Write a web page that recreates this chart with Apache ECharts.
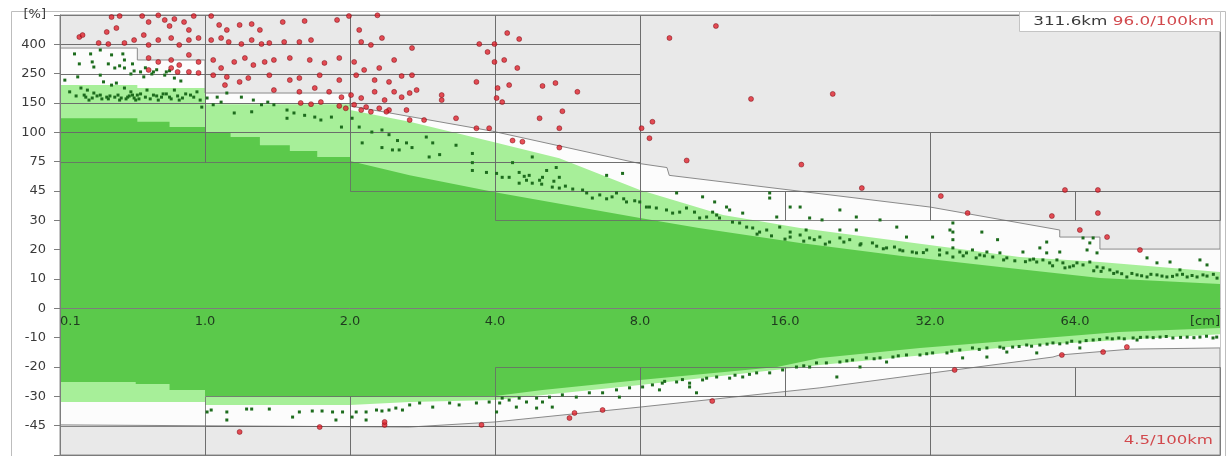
<!DOCTYPE html>
<html>
<head>
<meta charset="utf-8">
<script src="https://cdn.jsdelivr.net/npm/echarts@6/dist/echarts.min.js"></script>
<style>
  html, body { margin: 0; padding: 0; background: #fff; }
  #chart { width: 1230px; height: 456px; }
</style>
</head>
<body>
<div id="chart"></div>
<script>
// axis ticks: size [cm] doubles per step (first step 0.1 -> 1.0), deviation [%] on an uneven scale
const xTicks = [0.1, 1, 2, 4, 8, 16, 32, 64, 128];
const xLabels = ['0.1', '1.0', '2.0', '4.0', '8.0', '16.0', '32.0', '64.0', '[cm]'];
const yTicks = [-60, -45, -30, -20, -10, 0, 10, 20, 30, 45, 75, 100, 150, 250, 400, 600];
const yLabels = ['', '-45', '-30', '-20', '-10', '0', '10', '20', '30', '45', '75', '100', '150', '250', '400', '[%]'];

// limit bands [cm, %]
const upperEnvelope = [[0.1, 381], [0.58, 381], [0.58, 320], [1, 320], [1, 184], [2, 184], [2, 145], [3.95, 102], [8, 73], [9.1, 69], [9.2, 61], [32, 36.8], [59.5, 26.7], [59.5, 24.3], [72.1, 24.3], [72.1, 20.2], [128, 20.2]];
const lightUpper = [[0.1, 211], [0.58, 211], [0.58, 201], [1, 201], [1, 148], [2, 148], [2, 138], [2.66, 118], [3.95, 92], [5.44, 78], [8, 46], [11.9, 32.7], [17.2, 27.4], [36.9, 20.2], [49.1, 17.5], [72.1, 15.8], [128, 12.4]];
const darkUpper = [[0.1, 124], [0.58, 124], [0.58, 118], [0.78, 118], [0.78, 109], [1, 109], [1, 100.5], [1.13, 100.5], [1.13, 96], [1.3, 96], [1.3, 89], [1.5, 89], [1.5, 84], [1.71, 84], [1.71, 79], [2, 79], [2, 75.5], [2.66, 61], [4.08, 44], [8, 31.2], [10.6, 27.4], [17.2, 22.3], [27.7, 17.9], [44.7, 14.1], [72.1, 10.3], [128, 8.3]];
const lowerEnvelope = [[0.1, -44.6], [2.66, -45.7], [4, -43.1], [8, -35.5], [18.9, -27.1], [32.4, -22], [57.6, -16.6], [59.5, -15.9], [83.6, -13.9], [83.6, -13.5], [128, -13.5]];
const lightLower = [[0.1, -32.9], [1, -32.9], [1, -34.4], [2, -34.4], [2.66, -32.9], [4, -31.9], [8, -26.1], [18.9, -19.3], [49.1, -12.8], [128, -8.8]];
const darkLower = [[0.1, -25.1], [0.57, -25.1], [0.57, -25.8], [0.78, -25.8], [0.78, -27.8], [1, -27.8], [1, -29.9], [2, -30.4], [4, -29.9], [5.02, -27.8], [8, -24.4], [15.4, -20], [18.9, -16.9], [30.5, -13.5], [49.1, -10.8], [78.9, -8.1], [128, -6.7]];

// class boxes [cmFrom, cmTo, %from, %to]
const boxes = [
  [0.1, 1, 75, 100], [0.1, 1, 100, 150], [0.1, 1, 150, 250], [0.1, 1, 250, 400], [0.1, 1, 400, 600],
  [1, 2, 75, 100], [1, 2, 100, 150], [1, 2, 150, 250], [1, 2, 250, 400], [1, 2, 400, 600],
  [2, 4, 45, 75], [2, 4, 75, 100], [2, 4, 100, 150], [2, 4, 150, 250], [2, 4, 250, 400], [2, 4, 400, 600],
  [4, 8, 30, 45], [4, 8, 45, 75], [4, 8, 75, 100], [4, 8, 100, 150], [4, 8, 150, 250], [4, 8, 250, 400], [4, 8, 400, 600],
  [8, 128, 100, 600], [8, 32, 45, 100], [32, 128, 45, 100], [8, 16, 30, 45], [16, 32, 30, 45], [32, 64, 30, 45], [64, 128, 30, 45],
  [0.1, 1, -60, -45], [1, 2, -60, -45], [1, 2, -45, -30], [2, 4, -60, -45], [2, 4, -45, -30],
  [4, 8, -60, -45], [4, 8, -45, -30], [4, 8, -30, -20], [8, 32, -60, -45], [8, 32, -45, -30], [8, 16, -30, -20], [16, 32, -30, -20],
  [32, 128, -60, -45], [32, 128, -45, -30], [32, 64, -30, -20], [64, 128, -30, -20]
];

// measurements [cm, %]
const redDots = [
  [0.22, 450], [0.24, 463], [0.39, 484], [0.42, 586], [0.45, 511], [0.47, 593], [0.61, 593], [0.65, 552], [0.71, 598], [0.75, 566],
  [0.78, 525], [0.81, 573], [0.87, 552], [0.9, 498], [0.93, 593], [1.03, 593], [1.07, 532], [1.11, 498], [1.18, 532], [1.25, 538],
  [1.3, 498], [1.45, 552], [1.61, 559], [1.88, 566], [1.99, 593], [2.09, 498], [2.28, 598], [0.34, 409], [0.4, 402], [0.5, 409],
  [0.56, 429], [0.62, 463], [0.65, 397], [0.71, 429], [0.79, 443], [0.84, 397], [0.9, 429], [0.96, 443], [1.03, 429], [1.08, 443],
  [1.12, 416], [1.19, 402], [1.25, 429], [1.31, 402], [1.36, 409], [1.46, 416], [1.57, 416], [1.66, 429], [2.11, 416], [2.21, 397],
  [2.33, 443], [0.65, 330], [0.71, 310], [0.79, 320], [0.84, 294], [0.9, 346], [0.96, 310], [1.04, 320], [1.08, 279], [1.15, 310],
  [1.21, 330], [1.26, 294], [1.33, 310], [1.39, 320], [1.5, 330], [1.65, 320], [1.77, 305], [1.9, 330], [2.04, 310], [2.14, 269],
  [2.3, 279], [2.47, 320], [0.65, 269], [0.79, 279], [0.83, 259], [0.9, 259], [0.96, 254], [1.04, 245], [1.11, 239], [1.23, 235],
  [1.36, 245], [1.5, 228], [1.57, 235], [1.73, 245], [1.9, 228], [2.06, 245], [2.25, 228], [2.41, 222], [2.56, 242], [1.1, 211],
  [1.18, 222], [1.39, 194], [1.57, 188], [1.69, 201], [1.81, 188], [1.92, 170], [2.01, 177], [2.11, 167], [2.25, 188], [2.36, 160],
  [2.47, 188], [1.58, 150], [1.66, 148], [1.74, 153], [1.9, 145], [1.96, 141], [2.04, 147], [2.11, 138], [2.16, 143], [2.21, 135],
  [2.3, 141], [2.41, 138], [2.56, 170], [2.66, 184], [3.1, 177], [3.1, 160], [2.62, 138], [2.38, 135], [2.66, 121], [2.85, 121],
  [3.32, 124], [3.66, 107], [3.89, 107], [4.03, 167], [4.14, 153], [4.35, 93], [4.56, 92], [5.44, 87], [5.52, 136], [5.44, 107],
  [4.95, 124], [5.93, 188], [4.24, 477], [4.49, 436], [3.71, 402], [3.99, 402], [3.86, 361], [3.99, 310], [4.18, 320], [4.45, 279],
  [3.66, 222], [4.05, 201], [4.28, 211], [5.02, 208], [5.34, 218], [2.69, 381], [2.69, 245], [2.75, 194], [8.06, 107], [8.49, 118],
  [8.37, 95], [9.21, 443], [11.5, 525], [13.6, 164], [10, 76], [17.3, 72], [20.1, 181], [23.1, 48], [33.7, 42.4], [38.3, 33.7],
  [61, 46], [71.4, 46], [57.3, 32.2], [71.4, 33.7], [65.5, 26.7], [74.6, 24.3], [87.3, 19.9],
  [1.18, -48.2], [1.73, -45.7], [2.36, -44.6], [2.36, -43.1], [3.75, -44.6], [5.71, -41.1], [5.85, -38.5], [6.69, -37], [11.3, -32.4],
  [36, -21], [60.1, -15.9], [73.2, -14.9], [82, -13.2]
];
const greenDots = [
  [0.19, 351], [0.29, 351], [0.35, 371], [0.42, 346], [0.49, 351], [0.5, 320], [0.31, 284], [0.44, 279], [0.5, 279], [0.56, 264],
  [0.6, 259], [0.67, 249], [0.68, 259], [0.75, 245], [0.76, 259], [0.81, 235], [0.85, 225], [0.54, 249], [0.62, 239], [0.35, 245],
  [0.21, 239], [0.37, 222], [0.42, 211], [0.45, 218], [0.5, 201], [0.54, 188], [0.58, 177], [0.23, 201], [0.27, 194], [0.31, 184],
  [0.35, 177], [0.39, 170], [0.44, 170], [0.48, 167], [0.52, 170], [0.56, 167], [0.6, 181], [0.64, 194], [0.68, 177], [0.73, 170],
  [0.76, 181], [0.81, 194], [0.86, 167], [0.91, 177], [0.95, 188], [0.98, 143], [0.25, 177], [0.28, 160], [0.33, 174], [0.4, 164],
  [0.47, 160], [0.53, 174], [0.59, 164], [0.71, 160], [0.78, 170], [0.84, 160], [0.16, 188], [0.13, 228],
  [0.2, 174], [0.26, 170], [0.3, 167], [0.36, 164], [0.41, 174], [0.46, 177], [0.51, 164], [0.55, 177], [0.57, 160], [0.63, 170],
  [0.66, 164], [0.7, 174], [0.74, 181], [0.79, 164], [0.83, 174], [0.88, 181], [0.93, 170], [0.97, 160],
  [0.22, 300], [0.3, 310], [0.4, 300], [0.47, 290], [0.55, 300], [0.63, 280], [0.7, 270], [0.78, 265],
  [1.01, 167], [1.06, 170], [1.11, 184], [1.19, 170], [1.26, 160], [1.31, 147], [1.35, 153], [1.39, 147], [1.48, 138], [1.53, 133],
  [1.61, 129], [1.69, 126], [1.48, 124], [1.74, 121], [1.83, 126], [1.92, 109], [1.15, 133], [1.25, 135], [1.04, 147], [1.08, 153],
  [2.02, 124], [2.09, 109], [2.22, 100.5], [2.33, 104], [2.41, 98], [2.51, 93], [2.62, 91], [2.53, 85], [2.69, 87], [2.88, 96],
  [2.97, 91], [2.12, 91], [2.33, 87], [2.45, 85], [2.92, 79], [3.07, 81], [3.32, 89], [3.59, 82], [3.59, 74], [3.59, 66],
  [3.84, 64], [4.03, 63], [4.14, 59], [4.28, 59], [4.49, 64], [4.71, 61], [4.95, 56], [5.26, 49], [5.44, 48], [5.02, 59],
  [5.12, 66], [5.36, 69], [4.35, 74], [4.49, 53], [4.65, 56], [4.78, 53], [6.08, 46], [6.37, 41.4], [6.82, 41], [7.15, 44],
  [7.5, 39.4], [7.99, 39.4], [6.82, 61], [7.36, 63], [4.78, 79], [5.44, 59],
  [4.6, 60], [5, 52], [5.3, 55], [5.6, 50], [5.8, 47], [6.2, 44], [6.6, 43], [7, 42], [7.4, 41], [7.8, 40],
  [8.37, 36.8], [8.65, 36.3], [8.25, 36.8], [9.08, 35.3], [9.35, 33.7], [9.67, 34.2], [9.99, 36.3], [10.38, 34.2], [10.64, 31.2], [11, 31.7],
  [11.32, 34.2], [11.7, 31.2], [9.53, 44], [10.79, 42], [11.43, 39.4], [12.28, 35.3], [13.07, 33.7], [14.87, 44], [14.87, 41.4], [15.38, 31.7],
  [16.4, 36.8], [17.2, 36.8], [18, 31.2], [19.1, 30.2], [20.8, 35.3], [22.5, 31.7], [25.2, 30.2], [27.3, 27.7], [28.6, 24.3], [12.88, 29.1],
  [13.71, 27.4], [14.66, 26.7], [15.6, 27.7], [16.4, 26], [17.2, 25], [18, 24], [18.9, 24.3], [19.8, 22.6], [20.8, 24], [21.8, 23.4],
  [22.9, 21.6], [24.3, 22.3], [26, 20.6], [27.7, 19.9], [29.4, 19.2], [31.5, 19.9], [16.4, 24.3], [17.7, 26.7], [12.45, 29.4], [13.32, 27.7],
  [14.17, 26], [20.8, 26.7], [22.5, 26.7], [11.54, 32.7], [12.1, 36.8],
  [17.5, 22.9], [18.4, 23.4], [19.4, 21.9], [21.2, 22.6], [23, 22], [24.8, 21.2], [25.6, 20.3], [27, 20.9], [28.1, 19.6], [30, 18.9],
  [31, 19], [14, 25.3], [15, 24.7], [16, 23.6],
  [32.4, 24.3], [35.2, 26.7], [35.7, 23.4], [33.5, 18.2], [35.7, 17.5], [33.5, 19.9], [34.7, 18.9], [35.7, 20.6], [36.9, 19.2], [38.1, 18.9],
  [39.2, 19.9], [40.6, 18.2], [42, 19.2], [43.2, 17.5], [44.7, 18.9], [46.2, 17.2], [35.7, 26], [35.7, 29.1], [41, 26], [44.2, 23.4],
  [49.9, 19.2], [51.6, 16.5], [53.3, 15.8], [54.9, 16.5], [56.7, 15.5], [58.7, 16.5], [60.4, 15.5], [62.4, 14.1], [64.6, 15.5], [66.5, 14.8],
  [68.7, 15.8], [71.1, 14.1], [73.2, 13.8], [75.6, 13.1], [78.3, 12.4], [82, 10.7], [86.1, 11.4], [90.3, 10.7], [94.7, 11.4], [99.3, 10.7],
  [104.2, 11.4], [109.4, 10.7], [114.7, 10.7], [120.3, 11], [126.2, 10.3], [67.8, 19.9], [68.7, 22.3], [71.1, 18.9], [54.1, 20.6], [55.9, 18.9],
  [59.5, 19.2], [66.5, 24], [69.8, 24], [55.9, 22.6], [90.3, 17.2], [94.7, 15.5], [100.8, 15.8], [105.7, 13.1], [116.3, 16.5], [120.3, 14.8],
  [37.5, 17.9], [39.9, 17.2], [41.5, 17.9], [45.5, 16.5], [48, 16.2], [50.5, 15.9], [52.5, 16.8], [57.5, 14.5], [61, 13.8], [63.5, 14.5],
  [70, 12.8], [72.5, 12.6], [77, 11.9], [80, 11.8], [84, 11.9], [88, 11.1], [92, 11.6], [97, 11], [102, 10.9], [107, 11.6],
  [112, 11.2], [118, 11.4], [124, 11.6],
  [1.01, -38], [1.03, -37], [1.11, -38], [1.11, -42.1], [1.22, -36.5], [1.25, -36.5], [1.36, -36.5], [1.52, -40.6], [1.57, -38], [1.67, -37.5],
  [1.75, -37.5], [1.84, -38], [1.87, -42.1], [1.93, -38], [2.02, -40.6], [2.06, -38], [2.16, -42.1], [2.16, -38], [2.27, -37], [2.33, -37.5],
  [2.41, -37], [2.49, -36], [2.57, -37], [2.66, -34.4], [2.79, -33.4], [2.97, -35.5], [3.22, -33.4], [3.37, -34.4], [3.66, -33.4], [3.89, -32.9],
  [4.03, -38], [4.14, -30.9], [4.28, -31.9], [4.49, -30.9], [4.65, -32.9], [4.88, -30.9], [5.02, -32.9], [4.43, -35.5], [4.88, -36], [5.19, -30.4],
  [5.52, -29.5], [5.9, -30.4], [6.28, -28.8], [6.69, -28.8], [7.15, -27.8], [7.61, -27.1], [8.1, -26.8], [8.49, -26.1], [8.9, -25.5], [9.53, -25.1],
  [10.14, -25.5], [10.79, -24.4], [11.54, -23.4], [12.28, -23.8], [13.07, -23.4], [13.97, -22], [14.87, -22], [15.82, -21], [16.9, -20], [18, -20],
  [18.6, -18.6], [4.09, -33.4], [5.26, -35.5], [7.25, -30.4], [10.48, -28.8], [8.78, -27.8], [10.14, -26.8], [19.5, -18.6], [20.8, -18.3], [22.1, -17.6],
  [23.6, -16.9], [25.2, -16.9], [26.8, -16.6], [28.6, -15.9], [30.5, -15.9], [32.4, -15.2], [34.7, -15.2], [36.9, -14.2], [39.2, -13.5], [42, -13.5],
  [44.7, -13.2], [47.5, -13.2], [50.8, -12.5], [54.1, -12.5], [57.6, -11.8], [61.6, -11.8], [65.5, -11.5], [69.8, -10.8], [74.6, -10.1], [78.9, -10.1],
  [84.5, -10.1], [90.3, -9.8], [96.1, -9.8], [102.2, -10.1], [109.4, -9.8], [116.3, -9.8], [123.8, -10.1], [20.5, -23.4], [22.9, -20], [26, -18.3],
  [37.4, -16.9], [42, -16.6], [46.2, -14.9], [53.3, -15.2], [65.5, -13.5], [86.1, -10.8],
  [9, -24.9], [9.8, -24.3], [11, -23.8], [12.6, -22.8], [13.5, -22.5], [17.5, -19.6], [21.5, -17.9], [24.5, -17.2], [27.5, -16.2], [31.5, -15.5],
  [35.5, -14.6], [40.5, -14], [45.5, -13.6], [49, -13], [52, -12.9], [56, -12.2], [59.5, -12.1], [63, -11.2], [67.5, -11], [72, -10.6],
  [76.5, -10.4], [81, -10.4], [87.5, -9.9], [93, -10], [99, -9.6], [106, -9.9], [113, -10], [120, -9.5], [126, -9.8]
];

// position on the tick scale: linear in the first step, doubling afterwards
function xPos(cm) {
  if (cm <= xTicks[1]) return (cm - xTicks[0]) / (xTicks[1] - xTicks[0]);
  return 1 + Math.log2(cm / xTicks[1]);
}
function yPos(p) {
  if (p <= yTicks[0]) return -5;
  for (let i = 0; i < yTicks.length - 1; i++) {
    if (p <= yTicks[i + 1]) return i - 5 + (p - yTicks[i]) / (yTicks[i + 1] - yTicks[i]);
  }
  return 10;
}
const toXY = d => [xPos(d[0]), yPos(d[1])];

function band(data, color, stroke) {
  return {
    type: 'line',
    data: data.map(toXY),
    symbol: 'none',
    silent: true,
    z: 1,
    lineStyle: stroke ? { color: stroke, width: 1 } : { width: 0 },
    areaStyle: { color, opacity: 1 }
  };
}

const gridTop = 15;
const gridHeight = 440;
const smallText = { fontSize: 12, fontFamily: 'DejaVu Sans' };

const chart = echarts.init(document.getElementById('chart'));
const option = {
  animation: false,
  textStyle: { fontFamily: 'DejaVu Sans' },
  grid: {
    left: 60, top: gridTop, width: 1160, height: gridHeight,
    outerBoundsMode: 'none', containLabel: false,
    show: true, backgroundColor: '#e9e9e9', borderColor: '#8c8c8c', borderWidth: 1
  },
  xAxis: {
    type: 'value', min: 0, max: 8, interval: 1,
    position: 'bottom',
    z: 10,
    // axis sits on the 0 % line, five steps above the bottom edge
    offset: -gridHeight * 5 / 15,
    axisLine: { onZero: false, lineStyle: { color: '#7d7d7d' } },
    axisTick: { show: false },
    splitLine: { show: false },
    axisLabel: {
      formatter: v => xLabels[Math.round(v)],
      color: '#1f3a1f', fontSize: 13, margin: 7,
      showMinLabel: true, showMaxLabel: true,
      alignMinLabel: 'left', alignMaxLabel: 'right'
    }
  },
  yAxis: {
    type: 'value', min: -5, max: 10, interval: 1,
    z: 10,
    axisLine: { show: true, onZero: false, lineStyle: { color: '#7d7d7d' } },
    axisTick: { show: true, length: 6, lineStyle: { color: '#7d7d7d' } },
    splitLine: { show: false },
    axisLabel: {
      formatter: v => yLabels[Math.round(v) + 5],
      color: '#3a3a3a', fontSize: 13, margin: 14
    }
  },
  graphic: [
    {
      type: 'rect', z: -10, silent: true,
      shape: { x: 11.5, y: 11.5, width: 1214, height: 470 },
      style: { fill: null, stroke: '#bdbdbd', lineWidth: 1 }
    },
    {
      type: 'rect', z: 100, silent: true,
      shape: { x: 1019.5, y: 11.5, width: 201, height: 20 },
      style: { fill: '#ffffff', stroke: '#c4c4c4', lineWidth: 1 }
    },
    {
      type: 'text', x: 1214, y: 16, scaleX: 1.4, scaleY: 1, z: 101, silent: true,
      style: Object.assign({
        text: '{a|311.6km} {b|96.0/100km}',
        align: 'right',
        rich: {
          a: Object.assign({ fill: '#3a3a3a' }, smallText),
          b: Object.assign({ fill: '#d2494d' }, smallText)
        }
      }, smallText)
    },
    {
      type: 'text', x: 1213, y: 435, scaleX: 1.38, scaleY: 1, z: 101, silent: true,
      style: Object.assign({ text: '4.5/100km', fill: '#d2494d', align: 'right' }, smallText)
    }
  ],
  series: [
    band(upperEnvelope, '#fcfcfc', '#8a8a8a'),
    band(lowerEnvelope, '#fcfcfc', '#8a8a8a'),
    band(lightUpper, '#a7ef99'),
    band(lightLower, '#a7ef99'),
    band(darkUpper, '#5bc94b'),
    band(darkLower, '#5bc94b'),
    {
      type: 'custom',
      silent: true,
      z: 3,
      data: boxes.map(b => [xPos(b[0]), xPos(b[1]), yPos(b[2]), yPos(b[3])]),
      encode: { x: [0, 1], y: [2, 3] },
      renderItem: (params, api) => {
        const p0 = api.coord([api.value(0), api.value(2)]);
        const p1 = api.coord([api.value(1), api.value(3)]);
        return {
          type: 'rect',
          shape: {
            x: Math.round(p0[0]) + 0.5, y: Math.round(p1[1]) + 0.5,
            width: Math.round(p1[0]) - Math.round(p0[0]), height: Math.round(p0[1]) - Math.round(p1[1])
          },
          style: { fill: null, stroke: 'rgba(105,105,105,0.8)', lineWidth: 1 }
        };
      }
    },
    {
      name: 'inside',
      type: 'scatter',
      silent: true,
      z: 5,
      large: false,
      progressive: 0,
      data: greenDots.map(toXY),
      symbol: 'rect',
      symbolSize: 3,
      itemStyle: { color: '#1d6c1d', opacity: 1 }
    },
    {
      name: 'outside',
      type: 'scatter',
      silent: true,
      z: 6,
      large: false,
      progressive: 0,
      data: redDots.map(toXY),
      symbolSize: 5,
      itemStyle: { color: '#e0232d', borderColor: 'rgba(110,0,10,0.55)', borderWidth: 1 }
    }
  ]
};
chart.setOption(option);
</script>
</body>
</html>
